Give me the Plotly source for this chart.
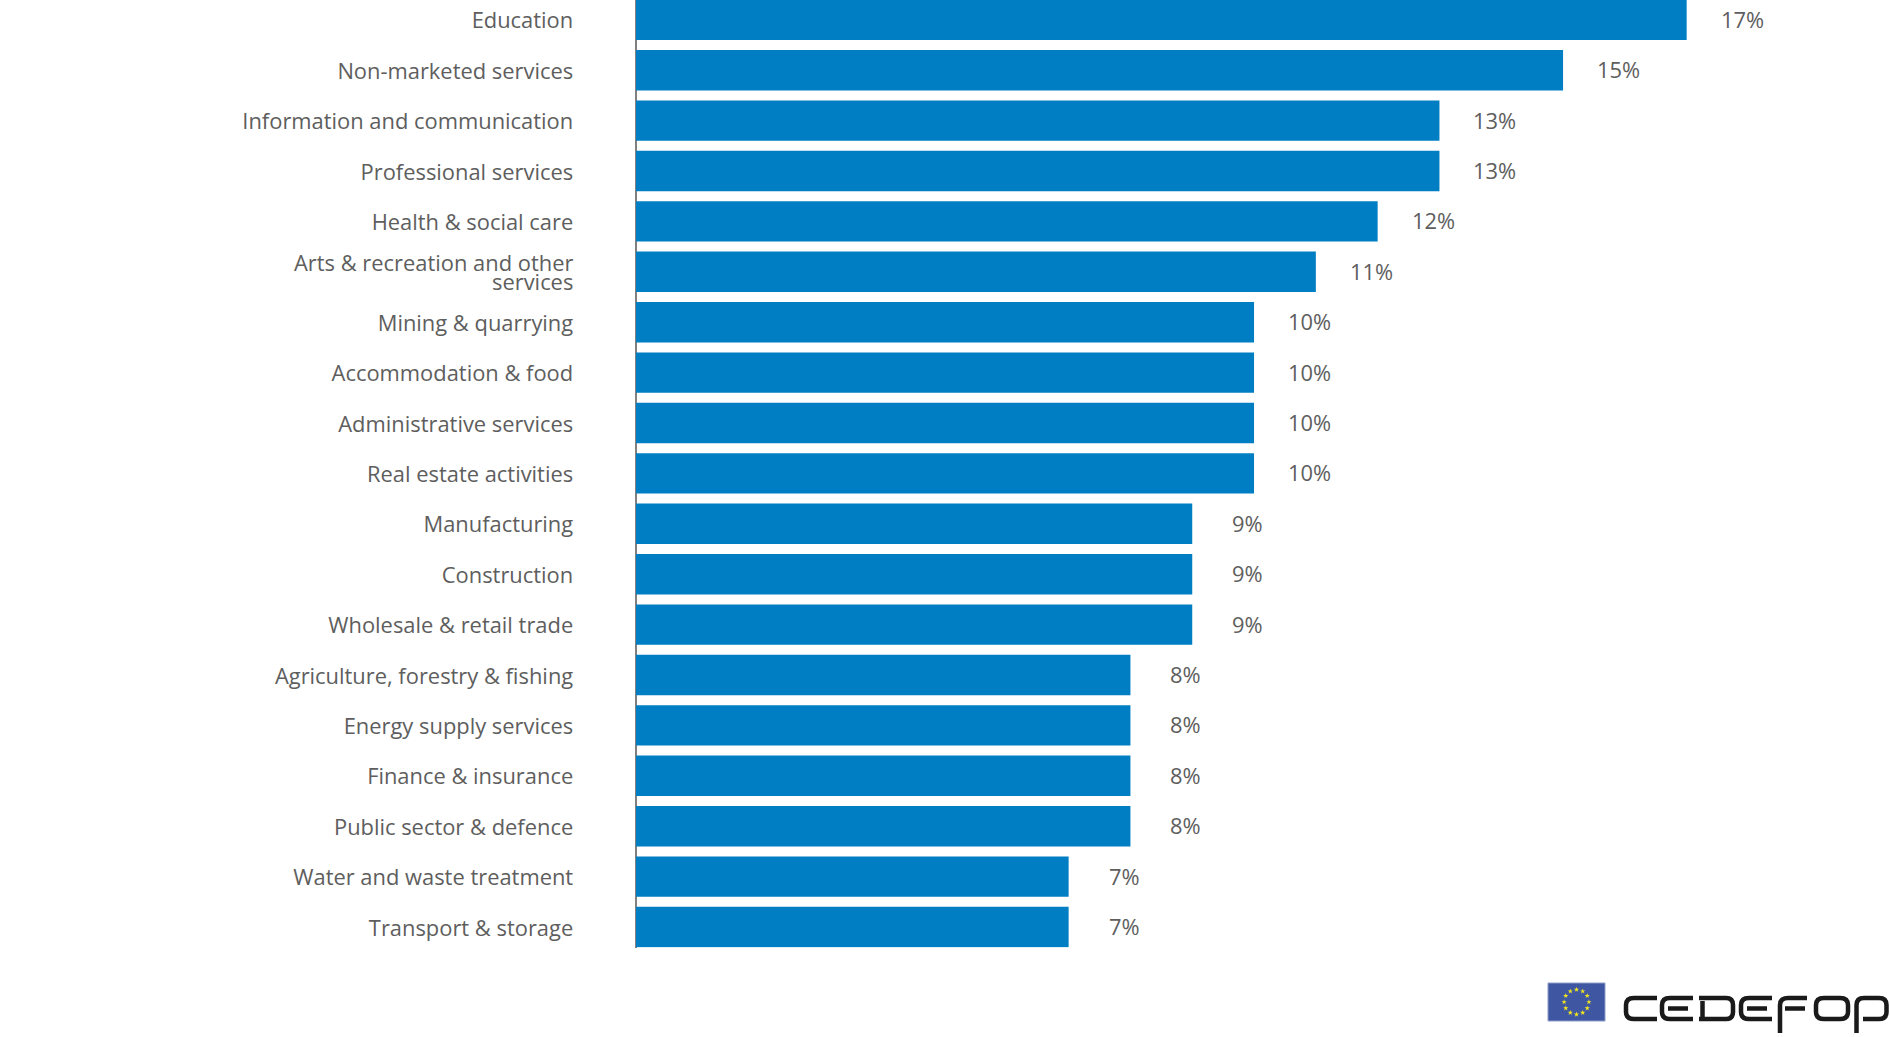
import math

import plotly.graph_objects as go

categories = [
    "Education", "Non-marketed services", "Information and communication",
    "Professional services", "Health & social care",
    "Arts & recreation and other services", "Mining & quarrying",
    "Accommodation & food", "Administrative services", "Real estate activities",
    "Manufacturing", "Construction", "Wholesale & retail trade",
    "Agriculture, forestry & fishing", "Energy supply services",
    "Finance & insurance", "Public sector & defence",
    "Water and waste treatment", "Transport & storage",
]
values = [17, 15, 13, 13, 12, 11, 10, 10, 10, 10, 9, 9, 9, 8, 8, 8, 8, 7, 7]

WIDTH, HEIGHT = 1890, 1037
BLUE = "#007EC4"
GREY_TEXT = "#5e5e5e"
FONT = "Open Sans"
LABEL_SIZE = 21.9
LOGO_INK = "#1a1a1a"

# the one long label is set by hand, plotly's line spacing is too wide for it
wrapped_label = "Arts & recreation and other services"
tick_text = ["" if c == wrapped_label else c for c in categories]

fig = go.Figure()

fig.add_trace(go.Bar(
    y=categories, x=values, orientation="h",
    marker=dict(color=BLUE, line=dict(width=0)),
    hoverinfo="skip", showlegend=False,
))

# value labels sit a fixed distance past the end of each bar
for cat, val in zip(categories, values):
    fig.add_annotation(
        x=val, y=cat, xref="x", yref="y", text=f"{val}%", showarrow=False,
        xshift=55.5, yshift=0.5, xanchor="center",
        font=dict(family=FONT, size=LABEL_SIZE, color=GREY_TEXT),
    )

for line, shift in (("Arts & recreation and other", 9.5), ("services", -9.5)):
    fig.add_annotation(
        x=574.5 / WIDTH, y=wrapped_label, xref="paper", yref="y", text=line,
        showarrow=False, xanchor="right", yshift=shift,
        font=dict(family=FONT, size=LABEL_SIZE, color=GREY_TEXT),
    )

# EU flag, on an overlay axis that counts in page pixels
fig.add_shape(type="rect", xref="x2", yref="y2", x0=1548, x1=1605, y0=983, y1=1021,
              fillcolor="#3F56A3", line=dict(color="#8f9cc8", width=1), layer="below")
star_x = [1576.5 + 12.4 * math.sin(i * math.pi / 6) for i in range(12)]
star_y = [1002 - 12.4 * math.cos(i * math.pi / 6) for i in range(12)]
fig.add_trace(go.Scatter(
    x=star_x, y=star_y, xaxis="x2", yaxis="y2", mode="markers",
    marker=dict(symbol="star", size=4, color="#F4E81C", line=dict(width=0)),
    hoverinfo="skip", showlegend=False,
))

# Cedefop wordmark, the logo lettering is not an installed font so it is stroked
logo_paths = [
    # C
    "M1657,998 L1634,998 Q1626,998 1626,1005 L1626,1012 Q1626,1019 1634,1019 L1657,1019",
    # E
    "M1693,998 L1670,998 Q1662,998 1662,1005 L1662,1012 Q1662,1019 1670,1019 L1693,1019",
    "M1668,1008.5 L1688,1008.5",
    # D
    "M1699,998 L1726,998 Q1733,998 1733,1005 L1733,1012 Q1733,1019 1726,1019 L1699,1019",
    "M1702.5,1001 L1702.5,1017",
    # E
    "M1772,998 L1749,998 Q1741,998 1741,1005 L1741,1012 Q1741,1019 1749,1019 L1772,1019",
    "M1747,1008.5 L1767,1008.5",
    # F
    "M1807,998 L1788,998 Q1780,998 1780,1005 L1780,1033",
    "M1785,1008.5 L1805,1008.5",
    # O
    "M1824,998 L1840,998 Q1848,998 1848,1005 L1848,1012 Q1848,1019 1840,1019 "
    "L1824,1019 Q1816,1019 1816,1012 L1816,1005 Q1816,998 1824,998 Z",
    # P
    "M1856.5,1033 L1856.5,1005 Q1856.5,998 1864,998 L1879,998 "
    "Q1886.5,998 1886.5,1005 L1886.5,1012 Q1886.5,1019 1879,1019 L1863,1019",
]
for p in logo_paths:
    fig.add_shape(type="path", path=p, xref="x2", yref="y2",
                  line=dict(color=LOGO_INK, width=4.5))

fig.update_layout(
    width=WIDTH, height=HEIGHT, autosize=False,
    margin=dict(l=0, r=0, t=0, b=0),
    paper_bgcolor="white", plot_bgcolor="rgba(0,0,0,0)",
    bargap=0.198, showlegend=False,
    xaxis=dict(
        domain=[574.2 / WIDTH, 1], range=[-1, 20.29], visible=True,
        showgrid=False, showticklabels=False, ticks="", showline=False,
        zeroline=True, zerolinecolor="#808080", zerolinewidth=2,
        layer="below traces",
    ),
    yaxis=dict(
        domain=[(HEIGHT - 947.5) / HEIGHT, 1], range=[18.407, -0.393],
        type="category", categoryorder="array", categoryarray=categories,
        tickmode="array", tickvals=categories, ticktext=tick_text,
        showgrid=False, zeroline=False, showline=False, ticks="",
        tickfont=dict(family=FONT, size=LABEL_SIZE, color=GREY_TEXT),
        ticklabelshift=-1, automargin=False,
    ),
    xaxis2=dict(domain=[0, 1], range=[0, WIDTH], anchor="y2", visible=False),
    yaxis2=dict(domain=[0, 1], range=[HEIGHT, 0], anchor="x2", visible=False),
)

fig.write_html("out.html", config={"displayModeBar": False},
               post_script="document.body.style.margin='0';")
